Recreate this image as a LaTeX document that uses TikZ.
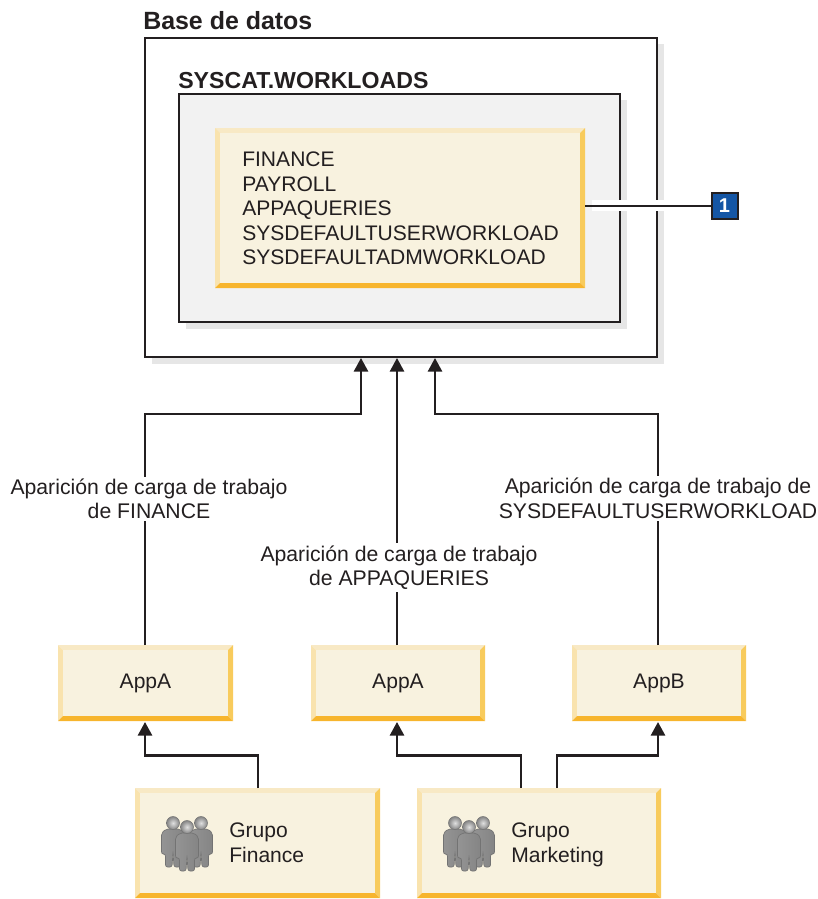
\documentclass[tikz,border=0pt]{standalone}
\usepackage{fontspec}
\setmainfont{Liberation Sans}
\usetikzlibrary{arrows.meta}
\definecolor{ink}{HTML}{231F20}
\definecolor{shadowgray}{HTML}{E6E6E6}
\definecolor{panelgray}{HTML}{F2F2F2}
\definecolor{cream}{HTML}{F8F2DF}
\definecolor{bevtop}{HTML}{F8E9C5}
\definecolor{bevleft}{HTML}{F9E3AE}
\definecolor{bevright}{HTML}{F8CB5C}
\definecolor{bevbottom}{HTML}{F7B52D}
\definecolor{badgeblue}{HTML}{1456A5}
\newcommand{\bevelbox}[6]{% name,x0,y0,x1,y1,bevel
  \fill[bevtop] (#2,#3) -- (#4,#3) -- ({#4-#6},{#3+#6}) -- ({#2+#6},{#3+#6}) -- cycle;
  \fill[bevleft] (#2,#3) -- ({#2+#6},{#3+#6}) -- ({#2+#6},{#5-#6}) -- (#2,#5) -- cycle;
  \fill[bevright] (#4,#3) -- ({#4-#6},{#3+#6}) -- ({#4-#6},{#5-#6}) -- (#4,#5) -- cycle;
  \fill[bevbottom] (#2,#5) -- ({#2+#6},{#5-#6}) -- ({#4-#6},{#5-#6}) -- (#4,#5) -- cycle;
  \fill[cream] ({#2+#6},{#3+#6}) rectangle ({#4-#6},{#5-#6});
  \coordinate (#1) at ({(#2+#4)/2},{(#3+#5)/2});
  \coordinate (#1-nw) at (#2,#3);
  \coordinate (#1-se) at (#4,#5);
}
\tikzset{
  x=0.75pt,y=-0.75pt,
  conn/.style={draw=ink,line width=1.75pt},
  arrowconn/.style={conn,-{Triangle[length=13.5pt*0.75,width=14pt*0.75]}},
  txt/.style={text=ink,font=\fontsize{15.8}{18.4}\selectfont,inner sep=0pt,align=left},
  lbl/.style={text=ink,font=\fontsize{15.9}{18.4}\selectfont,inner sep=1.5pt,align=center,fill=white},
  head/.style={text=ink,font=\bfseries\fontsize{18.7}{22}\selectfont,inner sep=0pt,anchor=base west},
  head2/.style={text=ink,font=\bfseries\fontsize{17.35}{22}\selectfont,inner sep=0pt,anchor=base west},
  person/.pic={
    \shade[left color=black!42,middle color=black!10,right color=black!48,draw=black!55,line width=0.5pt,rounded corners=1.6pt]
      (-7,6) -- (7,6) -- (11.5,10) -- (11.5,31) -- (7.5,31) -- (7.5,44) -- (1,44) -- (0,29) -- (-1,44) -- (-7.5,44) -- (-7.5,31) -- (-11.5,31) -- (-11.5,10) -- cycle;
    \shade[inner color=black!12,outer color=black!48,draw=black!55,line width=0.4pt] (0,0) circle[radius=6.5];
  },
  group/.pic={
    \pic at (-14,-4) {person};
    \pic at (14,-4) {person};
    \pic at (0,0) {person};
  }
}
\begin{document}
\begin{tikzpicture}
\useasboundingbox (0,0) rectangle (817,899);
% outer database box
\fill[shadowgray] (152,44) rectangle (664,364);
\draw[draw=ink,fill=white,line width=1.75pt] (145,38) rectangle (657,357);
\node[head] (tdb) at (143,29.5) {Base de datos};
% inner box
\fill[shadowgray] (186,100) rectangle (627,329);
\draw[draw=ink,fill=panelgray,line width=1.75pt] (179,94) rectangle (620,322);
\node[head2] (tsys) at (178,89) {SYSCAT.WORKLOADS};
% list box
\bevelbox{list}{215}{128}{585}{288}{5}
\node[txt,anchor=north west] (listtxt) at (242,151.5) {FINANCE\\PAYROLL\\APPAQUERIES\\SYSDEFAULTUSERWORKLOAD\\SYSDEFAULTADMWORKLOAD};
% leader
\fill[white] (592,200) rectangle (664,211);
\node[draw=ink,fill=badgeblue,text=white,line width=1.5pt,minimum size=19.5pt,inner sep=0pt,font=\bfseries\fontsize{15}{15}\selectfont] (badge) at (724.5,205.5) {1};
\coordinate (leadstart) at (585,205.5);
\draw[conn,line width=1.5pt] (leadstart) -- (badge.west);
% application boxes
\bevelbox{appa}{58}{645}{233}{721}{5}
\bevelbox{appm}{311}{645}{485}{721}{5}
\bevelbox{appb}{572}{645}{746}{721}{5}
\node[txt] (appatxt) at (145.5,683.5) {AppA};
\node[txt] (appmtxt) at (398,683.5) {AppA};
\node[txt] (appbtxt) at (659,683.5) {AppB};
% group boxes
\bevelbox{gfin}{135}{788}{380}{898}{5}
\bevelbox{gmkt}{417}{788}{661}{898}{5}
\pic at (187,827) {group};
\pic at (469,827) {group};
\node[txt,anchor=north west] (gfintxt) at (229,822.5) {Grupo\\Finance};
\node[txt,anchor=north west] (gmkttxt) at (511,822.5) {Grupo\\Marketing};
% workload connectors
\coordinate (t1) at (361,358);
\coordinate (t2) at (397,358);
\coordinate (t3) at (435,358);
\coordinate (s1) at (145,645);
\coordinate (s2) at (397,645);
\coordinate (s3) at (658,645);
\draw[arrowconn] (s1) -- (145,414) -- (361,414) -- (t1);
\draw[arrowconn] (s2) -- (t2);
\draw[arrowconn] (s3) -- (658,414) -- (435,414) -- (t3);
\node[lbl] (l1) at (149,499) {Aparición de carga de trabajo\\de FINANCE};
\node[lbl] (l2) at (399,567.5) {Aparición de carga de trabajo\\de APPAQUERIES};
\node[lbl] (l3) at (658,498.5) {Aparición de carga de trabajo de\\SYSDEFAULTUSERWORKLOAD};
% group connectors
\coordinate (g1) at (258,788);
\coordinate (g2) at (521,788);
\coordinate (g3) at (557,788);
\coordinate (a1) at (145,722);
\coordinate (a2) at (397,722);
\coordinate (a3) at (658,722);
\draw[arrowconn] (g1) -- (258,755.5) -- (145,755.5) -- (a1);
\draw[arrowconn] (g2) -- (521,755.5) -- (397,755.5) -- (a2);
\draw[arrowconn] (g3) -- (557,755.5) -- (658,755.5) -- (a3);
\end{tikzpicture}
\end{document}
